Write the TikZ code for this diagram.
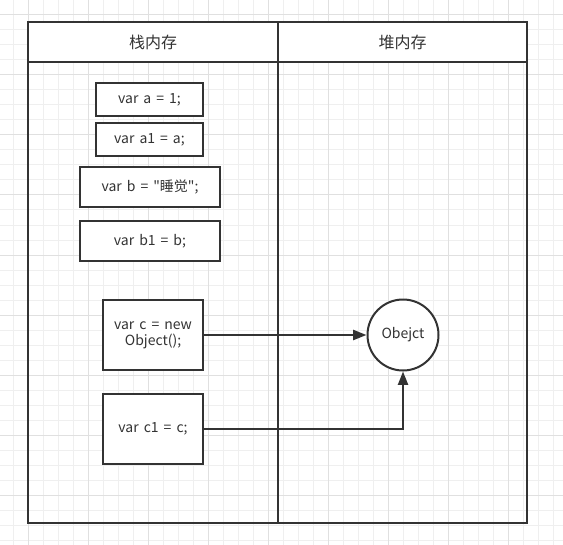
\documentclass[tikz,border=0pt]{standalone}
\usepackage{fontspec}
\newfontfamily\yahei[WordSpace=1.6]{Noto Sans CJK SC}
\usetikzlibrary{arrows.meta}
\definecolor{ink}{HTML}{333333}
\definecolor{gridminor}{HTML}{EFEFEF}
\definecolor{gridmajor}{HTML}{E0E0E0}

\begin{document}
\begin{tikzpicture}[x=0.75pt, y=-0.75pt, every node/.style={font=\yahei\fontsize{10.5}{12}\selectfont, text=ink}, lanehead/.style={draw=ink, line width=1.5pt, fill=white, minimum height=30pt, font=\yahei\fontsize{12}{14}\selectfont}, lanebody/.style={draw=ink, line width=1.5pt, minimum height=345.75pt}, var/.style={draw=ink, line width=1.5pt, fill=white, inner sep=2pt, align=center}, conn/.style={draw=ink, line width=1.5pt, -{Triangle[length=10pt, width=7.5pt]}}]
	\useasboundingbox (0,0) rectangle (563,545);
	% background grid
	\foreach \x in {13,28,...,553} \draw[gridminor, line width=0.75pt] (\x,0) -- (\x,545);
	\foreach \y in {0,15,...,540} \draw[gridminor, line width=0.75pt] (0,\y) -- (563,\y);
	\foreach \x in {28,88,...,508} \draw[gridmajor, line width=0.75pt] (\x,0) -- (\x,545);
	\foreach \y in {15,75,...,495} \draw[gridmajor, line width=0.75pt] (0,\y) -- (563,\y);
	% lanes
	\node[lanebody, minimum width=187.5pt] (stacklane) at (153,292.5) {};
	\node[lanebody, minimum width=186.75pt] (heaplane) at (402.5,292.5) {};
	\node[lanehead, minimum width=187.5pt] (stackhead) at (153,42) {栈内存};
	\node[lanehead, minimum width=186.75pt] (heaphead) at (402.5,42) {堆内存};
	% stack variables
	\node[var, minimum width=80.25pt, minimum height=24.75pt] (a) at (149.5,99.5) {var a = 1;};
	\node[var, minimum width=80.25pt, minimum height=24.75pt] (a1) at (149.5,139.5) {var a1 = a;};
	\node[var, minimum width=105pt, minimum height=30pt] (b) at (150,187) {var b = \char34 睡觉\char34;};
	\node[var, minimum width=105pt, minimum height=30pt] (b1) at (150,241) {var b1 = b;};
	\node[var, minimum width=75pt, minimum height=52.5pt] (c) at (153,335) {var c = new\\Object();};
	\node[var, minimum width=75pt, minimum height=52.5pt] (c1) at (153,429) {var c1 = c;};
	% heap object
	\node[circle, draw=ink, line width=1.5pt, fill=white, minimum size=53.25pt, inner sep=0pt] (obj) at (403,335) {Obejct};
	\draw[conn] (c) -- (obj);
	\draw[conn] (c1) -| (obj);
\end{tikzpicture}
\end{document}
